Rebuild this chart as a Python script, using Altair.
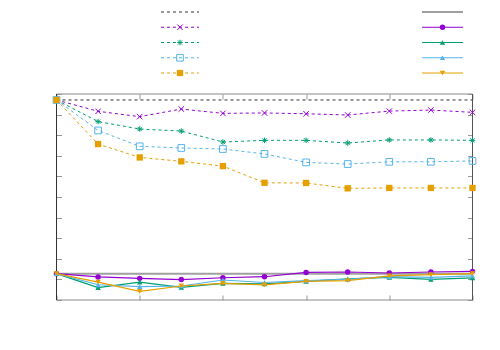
import altair as alt
import pandas as pd

# ---------------- data ----------------
x_vals = [0, 1, 2, 3, 4, 5, 6, 7, 8, 9, 10]

ref_dashed    = [9.71, 9.71, 9.71, 9.71, 9.71, 9.71, 9.71, 9.71, 9.71, 9.71, 9.71]
purple_x      = [9.71, 9.16, 8.90, 9.27, 9.06, 9.08, 9.04, 8.98, 9.17, 9.22, 9.11]
green_star    = [9.71, 8.66, 8.30, 8.20, 7.67, 7.75, 7.75, 7.62, 7.77, 7.77, 7.75]
blue_square   = [9.71, 8.23, 7.46, 7.38, 7.33, 7.09, 6.68, 6.60, 6.71, 6.71, 6.75]
orange_square = [9.71, 7.57, 6.92, 6.73, 6.50, 5.69, 5.68, 5.42, 5.44, 5.44, 5.44]

ref_solid     = [1.28, 1.28, 1.28, 1.28, 1.28, 1.28, 1.28, 1.28, 1.28, 1.28, 1.28]
purple_circle = [1.28, 1.12, 1.05, 0.99, 1.08, 1.13, 1.34, 1.36, 1.31, 1.36, 1.39]
green_tri     = [1.28, 0.60, 0.87, 0.61, 0.81, 0.78, 0.90, 1.03, 1.10, 1.00, 1.07]
blue_tri      = [1.28, 0.74, 0.65, 0.68, 0.97, 0.85, 0.94, 1.00, 1.13, 1.10, 1.17]
orange_tri    = [1.28, 0.87, 0.42, 0.68, 0.81, 0.73, 0.90, 0.94, 1.17, 1.23, 1.28]

x_ticks = [0, 2, 4, 6, 8, 10]
y_ticks = [0, 1, 2, 3, 4, 5, 6, 7, 8, 9, 10]

# ---------------- styles ----------------
PURPLE, GREEN, BLUE, ORANGE = "#9400D3", "#009E73", "#56B4E9", "#E69F00"
X_PATH = "M-1,-1L1,1M-1,1L1,-1"
STAR_PATH = "M-1,0L1,0M0,-1L0,1M-0.75,-0.75L0.75,0.75M-0.75,0.75L0.75,-0.75"
DASH = [3, 3]

# name, values, color, dash, width, shape, filled, size
specs = [
    ("ref_dashed", ref_dashed, "#333333", DASH, 1, None, False, 0),
    ("purple_x", purple_x, PURPLE, DASH, 1, X_PATH, False, 30),
    ("green_star", green_star, GREEN, DASH, 1, STAR_PATH, False, 30),
    ("blue_square", blue_square, BLUE, DASH, 1, "square", False, 45),
    ("orange_square", orange_square, ORANGE, DASH, 1, "square", True, 40),
    ("ref_solid", ref_solid, "#A0A0A0", None, 2, None, False, 0),
    ("purple_circle", purple_circle, PURPLE, None, 1.2, "circle", True, 30),
    ("green_tri", green_tri, GREEN, None, 1.2, "triangle-up", True, 30),
    ("blue_tri", blue_tri, BLUE, None, 1.2, "triangle-up", True, 30),
    ("orange_tri", orange_tri, ORANGE, None, 1.2, "triangle-down", True, 30),
]

xs = alt.Scale(domain=[0, 10], nice=False, zero=False)
ys = alt.Scale(domain=[0, 10], nice=False, zero=False)

layers = []

# frame of the plot area: dark vertical sides, lighter horizontal sides
one = alt.Data(values=[{"k": 1}])
W, H = 416, 206
layers.append(alt.Chart(one).mark_rule(color="#8a8a8a", strokeWidth=1).encode(
    x=alt.value(0), x2=alt.value(W), y=alt.value(0)))
layers.append(alt.Chart(one).mark_rule(color="#8a8a8a", strokeWidth=1).encode(
    x=alt.value(0), x2=alt.value(W), y=alt.value(H)))
layers.append(alt.Chart(one).mark_rule(color="#333333", strokeWidth=1).encode(
    x=alt.value(0), y=alt.value(0), y2=alt.value(H)))
layers.append(alt.Chart(one).mark_rule(color="#555555", strokeWidth=1).encode(
    x=alt.value(W), y=alt.value(0), y2=alt.value(H)))

# axis-only layers (inward ticks on all four sides)
base_df = pd.DataFrame({"x": x_vals, "y": purple_x})
tick_col = "#999999"
axis_common = dict(labels=False, domain=False, grid=False, tickSize=5, offset=-5,
                   tickColor=tick_col, title=None)
layers.append(
    alt.Chart(base_df).mark_point(opacity=0).encode(
        x=alt.X("x:Q", scale=xs, axis=alt.Axis(orient="bottom", values=x_ticks, **axis_common)),
        y=alt.Y("y:Q", scale=ys, axis=alt.Axis(orient="left", values=y_ticks, **axis_common)),
    )
)
layers.append(
    alt.Chart(base_df).mark_point(opacity=0).encode(
        x=alt.X("x:Q", scale=xs, axis=alt.Axis(orient="top", values=x_ticks, **axis_common)),
        y=alt.Y("y:Q", scale=ys, axis=alt.Axis(orient="right", values=y_ticks, **axis_common)),
    )
)

for name, vals, color, dash, width, shape, filled, size in specs:
    df = pd.DataFrame({"x": x_vals, "y": vals})
    line_kw = dict(color=color, strokeWidth=width)
    if dash:
        line_kw["strokeDash"] = dash
    enc = dict(x=alt.X("x:Q", scale=xs, axis=None), y=alt.Y("y:Q", scale=ys, axis=None))
    layers.append(alt.Chart(df).mark_line(**line_kw).encode(**enc))
    if shape:
        pt_kw = dict(shape=shape, color=color, size=size, opacity=1, filled=filled)
        if not filled:
            pt_kw["strokeWidth"] = 1
        layers.append(alt.Chart(df).mark_point(**pt_kw).encode(**enc))

# legend (no labels): two columns of line samples with markers
col_x = [(104.5, 142.5), (365.5, 406.5)]
row_y0, row_dy = -82, 15.25
for i, (name, vals, color, dash, width, shape, filled, size) in enumerate(specs):
    col, row = i // 5, i % 5
    x1, x2 = col_x[col]
    yy = row_y0 + row * row_dy
    rule_kw = dict(color=color, strokeWidth=width)
    if dash:
        rule_kw["strokeDash"] = dash
    layers.append(
        alt.Chart(one).mark_rule(**rule_kw).encode(
            x=alt.value(x1), x2=alt.value(x2), y=alt.value(yy)
        )
    )
    if shape:
        pt_kw = dict(shape=shape, color=color, size=size, opacity=1, filled=filled)
        if not filled:
            pt_kw["strokeWidth"] = 1
        layers.append(
            alt.Chart(one).mark_point(**pt_kw).encode(
                x=alt.value((x1 + x2) / 2), y=alt.value(yy)
            )
        )

chart = (
    alt.layer(*layers)
    .resolve_axis(x="independent", y="independent")
    .properties(
        width=W,
        height=H,
        autosize="none",
        padding={"left": 48.5, "top": 86, "right": 18, "bottom": 38},
        background="white",
    )
    .configure_view(stroke=None)
)

chart.save("out.html", embed_options={"renderer": "svg", "actions": False})
